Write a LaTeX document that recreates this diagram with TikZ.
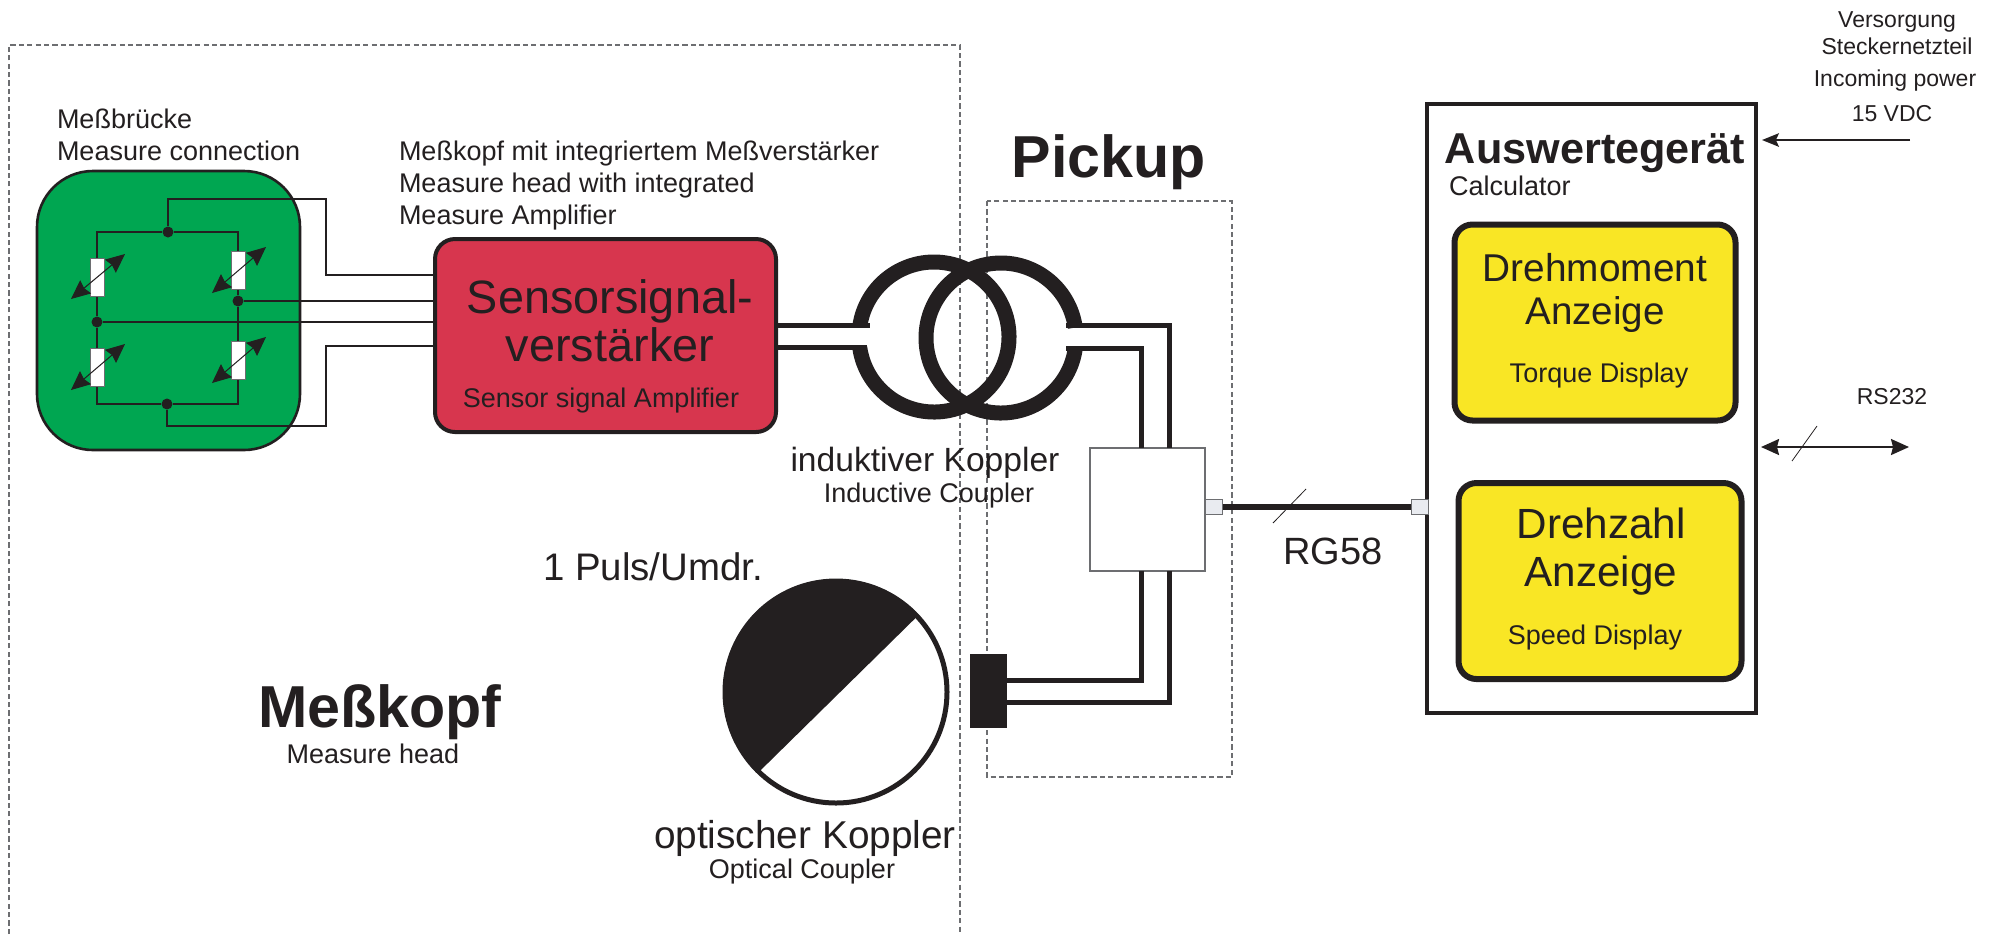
\documentclass[tikz,border=0pt]{standalone}
\usepackage{fontspec}
\setmainfont{Liberation Sans}
\usetikzlibrary{arrows.meta}
\definecolor{ink}{HTML}{231F20}
\definecolor{grn}{HTML}{00A651}
\definecolor{rd}{HTML}{D7364E}
\definecolor{yel}{HTML}{F9E625}
\definecolor{dashgray}{HTML}{6D6E71}
\definecolor{sq}{HTML}{E9EBF0}
\newcommand{\fsz}[1]{\fontsize{#1pt}{#1pt}\selectfont}
\tikzset{
  lbl/.style={inner sep=0pt,outer sep=0pt,text=ink,anchor=base west,font=\fsz{13.5}},
  lblc/.style={lbl,anchor=base},
  lblx/.style={lblc,font=\fsz{11.5}},
  lblb/.style={lblc,font=\fsz{29.6}\bfseries},
  boxn/.style={inner sep=0pt,outer sep=0pt,anchor=north west},
  wire/.style={draw=ink,line width=1.1pt},
  thick wire/.style={draw=ink,line width=2.5pt,line join=miter},
  ringl/.style={draw=ink,line width=7.5pt},
  dashbox/.style={draw=dashgray,line width=0.6pt,dash pattern=on 2.6pt off 1.6pt},
  junc/.style={circle,fill=ink,inner sep=0pt,minimum size=5.5pt},
  res/.style={draw=dashgray,fill=white,line width=0.5pt,minimum width=7pt,minimum height=19pt,inner sep=0pt},
  tune/.style={draw=ink,line width=0.5pt,{Stealth[length=9.5pt,width=8.5pt,inset=1pt]}-{Stealth[length=9.5pt,width=8.5pt,inset=1pt]}},
  slash/.style={draw=ink,line width=0.4pt},
  port/.style={draw=dashgray,fill=sq,line width=0.5pt,minimum width=8.5pt,minimum height=7.5pt,inner sep=0pt}
}
\begin{document}
\begin{tikzpicture}[x=0.5pt,y=-0.5pt]
\useasboundingbox (0,0) rectangle (2000,934);
% dashed frames
\coordinate (mA) at (9,934); \coordinate (mB) at (9,45); \coordinate (mC) at (960,45); \coordinate (mD) at (960,934);
\draw[dashbox] (mA) -- (mB) -- (mC) -- (mD);
\coordinate (pA) at (987,201); \coordinate (pB) at (1232,777);
\draw[dashbox] (pA) rectangle (pB);

% bridge board
\node[boxn,draw=ink,line width=1.3pt,fill=grn,rounded corners=28pt,minimum width=131.5pt,minimum height=139.5pt] (board) at (37,171) {};
\node[junc] (jt) at (168,232) {};
\node[junc] (jb) at (167,404) {};
\node[junc] (jl) at (97,322) {};
\node[junc] (jr) at (238,301) {};
\coordinate (ctl) at (97,232); \coordinate (ctr) at (238,232);
\coordinate (cbl) at (97,404); \coordinate (cbr) at (238,404);
\draw[wire] (jl) -- (ctl) -- (jt) -- (ctr) -- (jr) -- (cbr) -- (jb) -- (cbl) -- (jl);
\node[res] (r1) at (97,277) {};
\node[res] (r2) at (238,270) {};
\node[res] (r3) at (97,367) {};
\node[res] (r4) at (238,360) {};
\coordinate (a1) at (71,299); \coordinate (b1) at (125,254);
\coordinate (a2) at (212,293); \coordinate (b2) at (266,247);
\coordinate (a3) at (71,390); \coordinate (b3) at (125,344);
\coordinate (a4) at (212,383); \coordinate (b4) at (266,337);
\draw[tune] (a1) -- (b1);
\draw[tune] (a2) -- (b2);
\draw[tune] (a3) -- (b3);
\draw[tune] (a4) -- (b4);

% sensor amplifier
\node[boxn,draw=ink,line width=2pt,fill=rd,rounded corners=10pt,minimum width=170.5pt,minimum height=96.5pt] (amp) at (435,239) {};
\coordinate (w1a) at (168,199); \coordinate (w1b) at (326,199); \coordinate (w1c) at (326,275); \coordinate (w1d) at (434,275);
\draw[wire] (jt) -- (w1a) -- (w1b) -- (w1c) -- (w1d);
\coordinate (w2) at (434,301); \draw[wire] (jr) -- (w2);
\coordinate (w3) at (434,322); \draw[wire] (jl) -- (w3);
\coordinate (w4a) at (167,426); \coordinate (w4b) at (326,426); \coordinate (w4c) at (326,346); \coordinate (w4d) at (434,346);
\draw[wire] (jb) -- (w4a) -- (w4b) -- (w4c) -- (w4d);

% inductive coupler
\coordinate (cL) at (934,337);
\coordinate (cR) at (1001,338);
\draw[ringl] ([shift={(172:37.5pt)}]cL) arc[start angle=172,end angle=-172,radius=37.5pt];
\draw[ringl] ([shift={(8:37.5pt)}]cR) arc[start angle=8,end angle=352,radius=37.5pt];
\coordinate (la) at (777,325); \coordinate (lb) at (870,325);
\coordinate (lc) at (777,347); \coordinate (ld) at (867,347);
\draw[thick wire] (la) -- (lb);
\draw[thick wire] (lc) -- (ld);

% pickup box
\node[boxn,draw=dashgray,fill=white,line width=0.6pt,minimum width=57.5pt,minimum height=61.5pt] (pbox) at (1090,448) {};
\coordinate (ra) at (1066,325); \coordinate (rb) at (1169,325); \coordinate (rc) at (1169,448);
\coordinate (rd) at (1066,348); \coordinate (re) at (1141,348); \coordinate (rf) at (1141,448);
\draw[thick wire] (ra) -- (rb) -- (rc);
\draw[thick wire] (rd) -- (re) -- (rf);

% optical coupler
\node[boxn,fill=ink,minimum width=18.5pt,minimum height=37pt] (block) at (970,654) {};
\coordinate (s1a) at (1141,571); \coordinate (s1b) at (1141,680); \coordinate (s1c) at (1007,680);
\coordinate (s2a) at (1169,571); \coordinate (s2b) at (1169,702); \coordinate (s2c) at (1007,702);
\draw[thick wire] (s1a) -- (s1b) -- (s1c);
\draw[thick wire] (s2a) -- (s2b) -- (s2c);
\node[circle,draw=ink,fill=white,line width=2.5pt,minimum size=111pt,inner sep=0pt] (disc) at (836,692) {};
\fill[ink] ([shift={(43:56.5pt)}]disc.center) arc[start angle=43,end angle=226,radius=56.5pt] -- cycle;

% Auswerte unit
\node[boxn,draw=ink,fill=white,line width=1.7pt,minimum width=164.5pt,minimum height=304.5pt] (unit) at (1427,104) {};
\node[boxn,draw=ink,fill=yel,line width=3pt,rounded corners=9pt,minimum width=140.5pt,minimum height=98pt] (y1) at (1454.5,224.5) {};
\node[boxn,draw=ink,fill=yel,line width=3pt,rounded corners=9pt,minimum width=141.5pt,minimum height=98pt] (y2) at (1458.5,483) {};

% RG58 link
\node[port] (p1) at (1213.5,507) {};
\node[port] (p2) at (1420,507) {};
\draw[draw=ink,line width=2.7pt] (p1) -- (p2);
\coordinate (g1) at (1273,523); \coordinate (g2) at (1306,489);
\draw[slash] (g1) -- (g2);

% power and RS232 arrows
\coordinate (pw1) at (1910,140); \coordinate (pw2) at (1762,140);
\draw[draw=ink,line width=0.8pt,-{Stealth[length=8.5pt,width=6.8pt,inset=1.6pt]}] (pw1) -- (pw2);
\coordinate (rs1) at (1761,447); \coordinate (rs2) at (1909,447);
\draw[draw=ink,line width=1pt,{Stealth[length=9pt,width=8pt,inset=1pt]}-{Stealth[length=9pt,width=8pt,inset=1pt]}] (rs1) -- (rs2);
\coordinate (rs3) at (1792,461); \coordinate (rs4) at (1817,426);
\draw[slash] (rs3) -- (rs4);

% texts
\node[lbl] (t1) at (57,128) {Meßbrücke};
\node[lbl] (t2) at (57,160) {Measure connection};
\node[lbl] (t3) at (399,160) {Meßkopf mit integriertem Meßverstärker};
\node[lbl] (t4) at (399,192) {Measure head with integrated};
\node[lbl] (t5) at (399,224) {Measure Amplifier};
\node[lblc,font=\fsz{23.4}] (t6) at (610,313) {Sensorsignal-};
\node[lblc,font=\fsz{23.4}] (t7) at (610,361) {verstärker};
\node[lblc] (t8) at (601,407) {Sensor signal Amplifier};
\node[lblb] (t9) at (1109,177) {Pickup};
\node[lblc,font=\fsz{16.8}] (t10) at (925,471) {induktiver Koppler};
\node[lblc] (t11) at (929,502) {Inductive Coupler};
\node[lblc,font=\fsz{19.2}] (t12) at (653,580) {1 Puls/Umdr.};
\node[lblb] (t13) at (380,727) {Meßkopf};
\node[lblc] (t14) at (373,763) {Measure head};
\node[lblc,font=\fsz{19.4}] (t15) at (805,848) {optischer Koppler};
\node[lblc] (t16) at (802,878) {Optical Coupler};
\node[lblc,font=\fsz{19}] (t17) at (1333,564) {RG58};
\node[lblc,font=\fsz{21.6}\bfseries] (t18) at (1595,163) {Auswertegerät};
\node[lbl] (t19) at (1449,195) {Calculator};
\node[lblc,font=\fsz{19.4}] (t20) at (1595,281) {Drehmoment};
\node[lblc,font=\fsz{19.3}] (t21) at (1595,324) {Anzeige};
\node[lblc] (t22) at (1599,382) {Torque Display};
\node[lblc,font=\fsz{21.1}] (t23) at (1601,538) {Drehzahl};
\node[lblc,font=\fsz{21.1}] (t24) at (1601,586) {Anzeige};
\node[lblc] (t25) at (1595,644) {Speed Display};
\node[lblx] (t26) at (1897,27) {Versorgung};
\node[lblx] (t27) at (1897,54) {Steckernetzteil};
\node[lblx] (t28) at (1895,86) {Incoming power};
\node[lblx] (t29) at (1892,121) {15 VDC};
\node[lblx] (t30) at (1892,404) {RS232};
\end{tikzpicture}
\end{document}
